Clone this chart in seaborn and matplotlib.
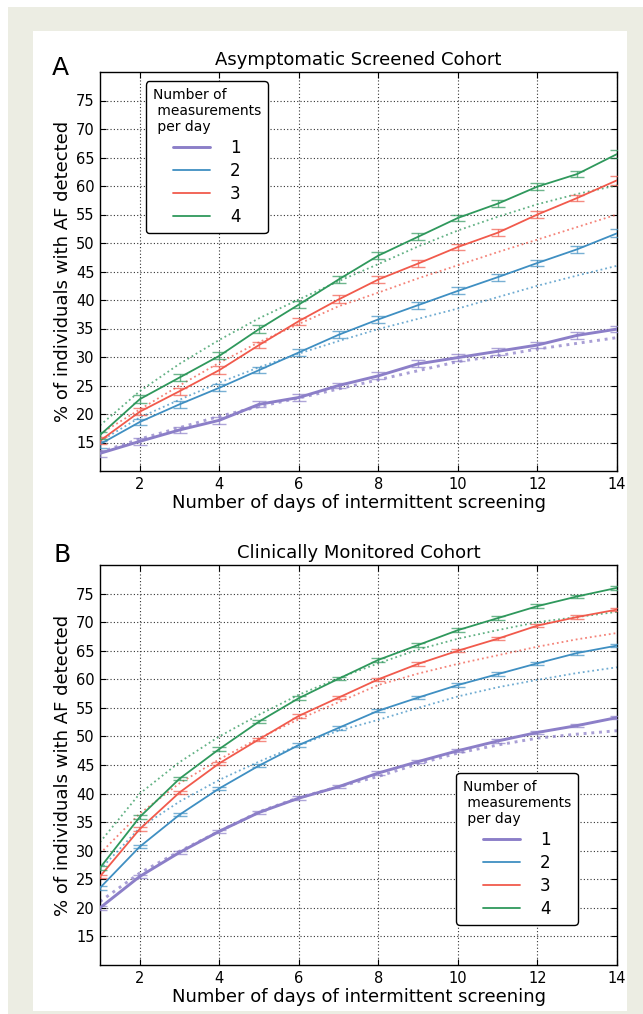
import matplotlib
matplotlib.use("Agg")
import matplotlib.pyplot as plt
import seaborn as sns
import pandas as pd
from matplotlib.patches import Rectangle
from matplotlib.lines import Line2D

sns.set_theme(style="white")
plt.rcParams['font.family'] = ['DejaVu Sans']
plt.rcParams['text.color'] = 'black'
plt.rcParams['axes.labelcolor'] = 'black'
plt.rcParams['xtick.color'] = 'black'
plt.rcParams['ytick.color'] = 'black'

# ---------------- data ----------------
days = [1, 2, 3, 4, 5, 6, 7, 8, 9, 10, 11, 12, 13, 14]
series_labels = ["1", "2", "3", "4"]

# Panel A: Asymptomatic Screened Cohort (observed, solid)
A_obs_1 = [13.1, 15.2, 17.2, 18.9, 21.7, 22.9, 25.0, 26.7, 28.8, 29.9, 31.0, 32.1, 33.8, 34.9]
A_obs_2 = [14.7, 18.6, 21.7, 24.6, 27.7, 30.8, 33.9, 36.6, 39.1, 41.6, 44.0, 46.5, 48.9, 51.7]
A_obs_3 = [15.3, 20.4, 24.0, 27.7, 32.1, 36.3, 40.1, 43.6, 46.4, 49.3, 51.8, 55.0, 57.9, 61.0]
A_obs_4 = [16.3, 22.6, 26.4, 30.2, 34.9, 39.2, 43.6, 47.8, 51.1, 54.4, 56.9, 59.9, 62.1, 65.6]
# Panel A model (dotted)
A_mod_1 = [13.3, 15.6, 17.6, 19.6, 21.3, 22.8, 24.4, 26.0, 27.6, 29.2, 30.2, 31.4, 32.4, 33.4]
A_mod_2 = [15.2, 19.4, 22.5, 25.5, 28.2, 30.6, 32.8, 34.9, 36.7, 38.5, 40.5, 42.5, 44.3, 46.0]
A_mod_3 = [16.5, 20.8, 25.0, 29.0, 32.6, 35.8, 38.9, 41.3, 43.8, 46.1, 48.4, 50.6, 52.8, 55.0]
A_mod_4 = [18.0, 24.0, 28.8, 33.0, 36.8, 40.1, 43.3, 46.3, 49.4, 52.2, 54.6, 56.8, 58.6, 60.1]
# Panel A error half-widths
A_err_1 = [0.6, 0.6, 0.5, 0.6, 0.5, 0.6, 0.5, 0.6, 0.6, 0.6, 0.6, 0.6, 0.6, 0.6]
A_err_2 = [0.6, 0.6, 0.6, 0.6, 0.5, 0.6, 0.6, 0.6, 0.6, 0.6, 0.6, 0.6, 0.6, 0.7]
A_err_3 = [0.6, 0.6, 0.6, 0.7, 0.6, 0.6, 0.7, 0.6, 0.6, 0.6, 0.6, 0.6, 0.6, 0.8]
A_err_4 = [0.6, 0.7, 0.6, 0.6, 0.7, 0.6, 0.6, 0.6, 0.6, 0.6, 0.6, 0.6, 0.5, 0.7]

# Panel B: Clinically Monitored Cohort (observed, solid)
B_obs_1 = [20.0, 25.5, 29.7, 33.4, 36.7, 39.2, 41.2, 43.6, 45.6, 47.5, 49.2, 50.7, 51.9, 53.3]
B_obs_2 = [23.5, 30.7, 36.3, 40.9, 44.9, 48.5, 51.5, 54.5, 56.8, 59.0, 60.9, 62.8, 64.6, 65.9]
B_obs_3 = [25.5, 33.8, 40.2, 45.3, 49.5, 53.6, 56.8, 60.0, 62.7, 65.0, 67.1, 69.4, 70.9, 72.2]
B_obs_4 = [27.0, 35.9, 42.6, 47.8, 52.6, 56.7, 60.1, 63.4, 66.0, 68.6, 70.7, 72.8, 74.5, 76.0]
# Panel B model (dotted)
B_mod_1 = [21.1, 26.1, 29.9, 33.4, 36.8, 39.3, 41.2, 43.0, 45.2, 47.1, 48.5, 49.7, 50.4, 51.0]
B_mod_2 = [26.7, 34.0, 38.6, 42.4, 45.6, 48.5, 51.0, 52.9, 55.0, 57.0, 58.6, 59.9, 61.1, 62.1]
B_mod_3 = [29.5, 36.5, 41.8, 46.0, 49.7, 53.0, 56.0, 59.0, 61.0, 62.7, 64.2, 65.7, 67.0, 68.1]
B_mod_4 = [31.5, 40.0, 45.5, 50.0, 53.8, 57.3, 60.2, 62.8, 65.2, 67.1, 68.6, 70.0, 70.9, 71.8]
# Panel B error half-widths
B_err_1 = [0.3, 0.3, 0.3, 0.3, 0.3, 0.3, 0.3, 0.3, 0.3, 0.3, 0.3, 0.3, 0.3, 0.3]
B_err_2 = [0.3, 0.3, 0.3, 0.3, 0.3, 0.3, 0.3, 0.3, 0.3, 0.3, 0.3, 0.3, 0.3, 0.3]
B_err_3 = [0.3, 0.3, 0.3, 0.3, 0.3, 0.3, 0.3, 0.3, 0.3, 0.3, 0.3, 0.3, 0.3, 0.3]
B_err_4 = [0.3, 0.3, 0.3, 0.3, 0.3, 0.3, 0.3, 0.3, 0.3, 0.3, 0.3, 0.3, 0.3, 0.3]

x_ticks = [2, 4, 6, 8, 10, 12, 14]
y_ticks = [15, 20, 25, 30, 35, 40, 45, 50, 55, 60, 65, 70, 75]

colors = ["#8c7fc8", "#3f8fc2", "#f15a4c", "#2f985c"]
widths = [2.1, 1.3, 1.3, 1.3]

panels = [
    dict(letter="A", title="Asymptomatic Screened Cohort",
         obs=[A_obs_1, A_obs_2, A_obs_3, A_obs_4],
         mod=[A_mod_1, A_mod_2, A_mod_3, A_mod_4],
         err=[A_err_1, A_err_2, A_err_3, A_err_4]),
    dict(letter="B", title="Clinically Monitored Cohort",
         obs=[B_obs_1, B_obs_2, B_obs_3, B_obs_4],
         mod=[B_mod_1, B_mod_2, B_mod_3, B_mod_4],
         err=[B_err_1, B_err_2, B_err_3, B_err_4]),
]

# ---------------- figure ----------------
W, H = 643, 1014
fig = plt.figure(figsize=(W / 100, H / 100), dpi=100, facecolor="white")
fig.patches.append(Rectangle((8 / W, 0), 1 - 8 / W, 1 - 7 / H, transform=fig.transFigure,
                             facecolor="#ecede3", edgecolor="none", zorder=-20))
fig.patches.append(Rectangle((33 / W, 1 - 1011 / H), (627 - 33) / W, (1011 - 31) / H,
                             transform=fig.transFigure, facecolor="white",
                             edgecolor="none", zorder=-19))

axes_px = [(100, 72, 617, 471), (100, 565, 617, 965)]
legend_anchor = [(0.089, 0.977), (0.689, 0.48)]
letter_pos = [(52, 75), (53, 562)]

for p, (l, t, r, b), anc, lp in zip(panels, axes_px, legend_anchor, letter_pos):
    ax = fig.add_axes([l / W, 1 - b / H, (r - l) / W, (b - t) / H])
    ax.set_facecolor("white")
    # dotted model curves
    for vals, c, lw in zip(p["mod"], colors, widths):
        df = pd.DataFrame({"day": days, "pct": vals})
        sns.lineplot(data=df, x="day", y="pct", ax=ax, color=c, linewidth=lw,
                     linestyle=":", alpha=0.75, zorder=2)
    # observed curves with error bars
    for vals, e, c, lw in zip(p["obs"], p["err"], colors, widths):
        df = pd.DataFrame({"day": days, "pct": vals})
        sns.lineplot(data=df, x="day", y="pct", ax=ax, color=c, linewidth=lw, zorder=3)
        ax.errorbar(days, vals, yerr=e, fmt="none", ecolor=c, elinewidth=1.0,
                    capsize=5, capthick=1.0, alpha=0.7, zorder=3)
    ax.set_xlim(1, 14)
    ax.set_ylim(10, 80)
    ax.set_xticks(x_ticks)
    ax.set_yticks(y_ticks)
    ax.grid(True, linestyle=(0, (1, 2)), color="#333333", linewidth=0.8)
    ax.tick_params(direction="in", length=4, width=0.8, bottom=True, left=True,
                   top=True, right=True, labelsize=10.5, pad=4)
    for s in ax.spines.values():
        s.set_color("black")
        s.set_linewidth(1.0)
    ax.set_xlabel("Number of days of intermittent screening", fontsize=13, labelpad=2)
    ax.set_ylabel("% of individuals with AF detected", fontsize=13, labelpad=3)
    ax.set_title(p["title"], fontsize=13, pad=5)
    handles = [Line2D([0], [0], color=c, lw=lw) for c, lw in zip(colors, widths)]
    leg = ax.legend(handles, series_labels, title="Number of\n measurements\n per day",
                    loc="upper left", bbox_to_anchor=anc, borderaxespad=0,
                    fontsize=12, title_fontsize=10, frameon=True, fancybox=True,
                    framealpha=1, edgecolor="black", handlelength=2.2,
                    handletextpad=1.2, labelspacing=0.3)
    leg.get_title().set_multialignment("left")
    leg.get_frame().set_linewidth(1.0)
    leg.set_zorder(10)
    fig.text(lp[0] / W, 1 - lp[1] / H, p["letter"], fontsize=18, va="baseline", ha="left")

fig.savefig("out.png", dpi=100, facecolor=fig.get_facecolor())
